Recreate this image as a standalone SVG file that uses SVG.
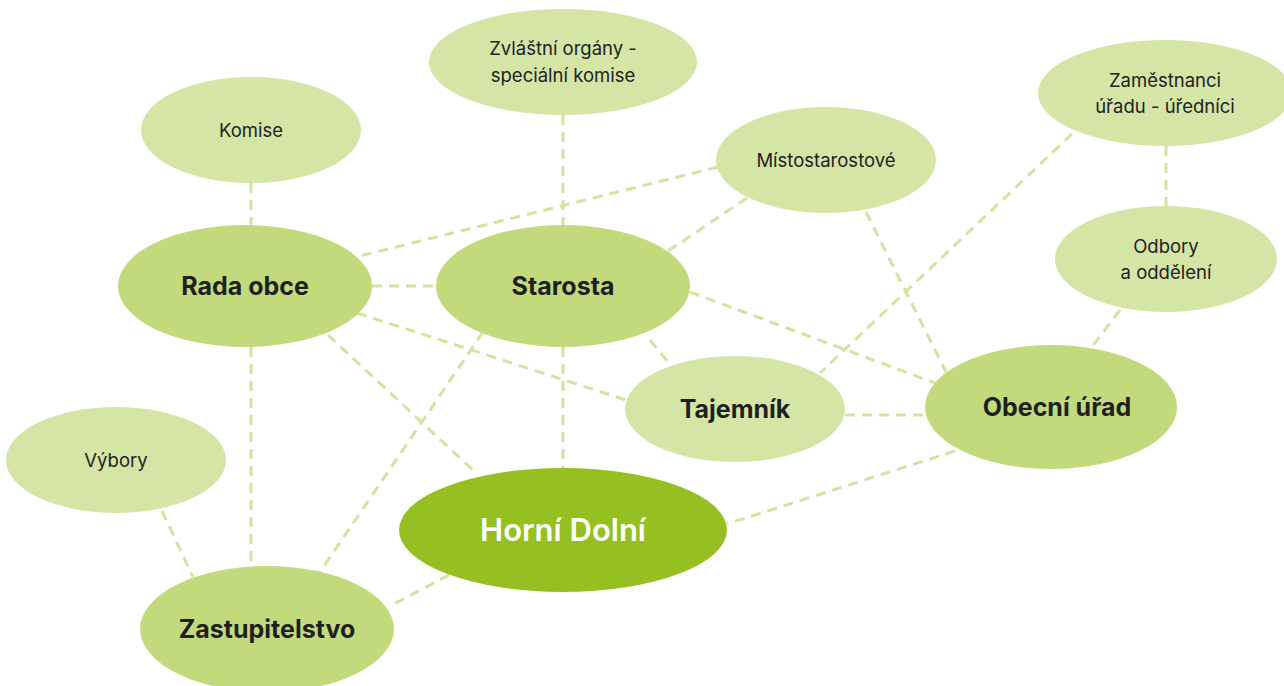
<svg xmlns="http://www.w3.org/2000/svg" width="1284" height="686" viewBox="0 0 1284 686">
<style>
.c{stroke:#d2e4a2;stroke-width:3;stroke-dasharray:10 7;fill:none}
.l{fill:#d4e5a6}
.m{fill:#c2da7b}
.d{fill:#96bf21}
.t{font-family:Inter,"Liberation Sans",sans-serif;font-size:18.5px;fill:#222;text-anchor:middle}
.b{font-family:Inter,"Liberation Sans",sans-serif;font-size:25px;font-weight:700;fill:#1f1f1f;text-anchor:middle}
.w{font-family:Inter,"Liberation Sans",sans-serif;font-size:31px;font-weight:600;fill:#fff;text-anchor:middle}
</style>
<rect width="1284" height="686" fill="#fff"/>
<g id="connectors">
<line class="c" x1="251" y1="183" x2="251" y2="225"/>
<line class="c" x1="563" y1="115" x2="563" y2="225"/>
<line class="c" x1="718" y1="167" x2="356" y2="257"/>
<line class="c" x1="747" y1="198" x2="668" y2="251"/>
<line class="c" x1="866" y1="212" x2="946" y2="372"/>
<line class="c" x1="1072" y1="134" x2="820" y2="373"/>
<line class="c" x1="1166" y1="146" x2="1166" y2="206"/>
<line class="c" x1="1120" y1="310" x2="1092" y2="347"/>
<line class="c" x1="372" y1="286" x2="436" y2="286"/>
<line class="c" x1="690" y1="292" x2="935" y2="383"/>
<line class="c" x1="650" y1="340" x2="668" y2="362"/>
<line class="c" x1="357" y1="313" x2="626" y2="400"/>
<line class="c" x1="328" y1="335" x2="475" y2="472"/>
<line class="c" x1="251" y1="347" x2="251" y2="566"/>
<line class="c" x1="483" y1="332" x2="320" y2="572"/>
<line class="c" x1="563" y1="347" x2="563" y2="468"/>
<line class="c" x1="845" y1="415" x2="925" y2="415"/>
<line class="c" x1="955" y1="451" x2="727" y2="524"/>
<line class="c" x1="449" y1="575" x2="390" y2="606"/>
<line class="c" x1="162" y1="511" x2="193" y2="577"/>
</g>
<g id="komise"><ellipse class="l" cx="251" cy="130" rx="110" ry="53"/><text class="t" x="251" y="137">Komise</text></g>
<g id="zvlastni"><ellipse class="l" cx="563" cy="62" rx="134" ry="53"/><text class="t" x="563" y="55">Zvláštní orgány -</text><text class="t" x="563" y="82">speciální komise</text></g>
<g id="zamestnanci"><ellipse class="l" cx="1165" cy="93" rx="127" ry="53"/><text class="t" x="1165" y="87">Zaměstnanci</text><text class="t" x="1165" y="113">úřadu - úředníci</text></g>
<g id="mistostarostove"><ellipse class="l" cx="826" cy="160" rx="110" ry="53"/><text class="t" x="826" y="167">Místostarostové</text></g>
<g id="odbory"><ellipse class="l" cx="1166" cy="259" rx="111" ry="53"/><text class="t" x="1166" y="253">Odbory</text><text class="t" x="1166" y="279">a oddělení</text></g>
<g id="rada"><ellipse class="m" cx="245" cy="286" rx="127" ry="61"/><text class="b" x="245" y="295">Rada obce</text></g>
<g id="starosta"><ellipse class="m" cx="563" cy="286" rx="127" ry="61"/><text class="b" x="563" y="295">Starosta</text></g>
<g id="tajemnik"><ellipse class="l" cx="735" cy="409" rx="110" ry="53"/><text class="b" x="735" y="418">Tajemník</text></g>
<g id="obecni"><ellipse class="m" cx="1051" cy="407" rx="126" ry="62"/><text class="b" x="1057" y="416">Obecní úřad</text></g>
<g id="vybory"><ellipse class="l" cx="116" cy="460" rx="110" ry="53"/><text class="t" x="116" y="467">Výbory</text></g>
<g id="horni"><ellipse class="d" cx="563" cy="530" rx="164" ry="62"/><text class="w" x="563" y="541">Horní Dolní</text></g>
<g id="zastupitelstvo"><ellipse class="m" cx="267" cy="629" rx="127" ry="63"/><text class="b" x="267" y="638">Zastupitelstvo</text></g>
</svg>
